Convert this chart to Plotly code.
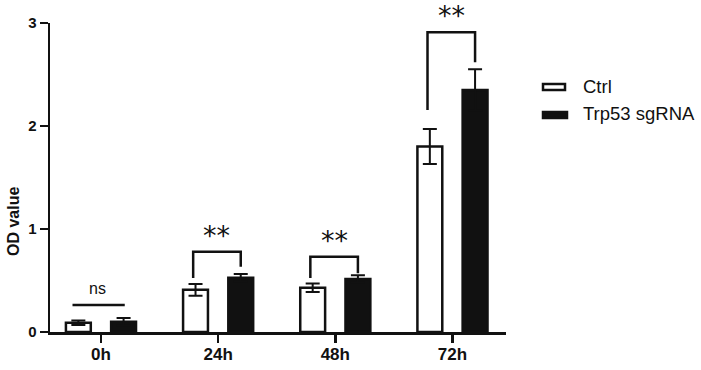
import plotly.graph_objects as go

# ---- data ----
categories = ["0h", "24h", "48h", "72h"]
ctrl_mean = [0.09, 0.41, 0.43, 1.80]
ctrl_err = [0.022, 0.057, 0.042, 0.17]
trp_mean = [0.10, 0.527, 0.515, 2.35]
trp_err = [0.035, 0.035, 0.037, 0.20]
series_names = ["Ctrl", "Trp53 sgRNA"]
sig_labels = ["ns", "**", "**", "**"]
y_ticks = [0, 1, 2, 3]

# ---- layout constants ----
W, H = 701, 370
L, T = 50, 23
PW, PH = 456, 309
R, B = W - L - PW, H - T - PH
BARGAP, BARGROUPGAP = 0.228, 0.45
half_slot = (1 - BARGAP) / 4.0  # offset of each bar center from group center
# bracket geometry (in y data units)
sig_top = [0.262, 0.78, 0.73, 2.91]
leg_left = [None, 0.524, 0.524, 2.155]
leg_right = [None, 0.634, 0.57, 2.618]
label_lift = 0.16
YMAX = 3.0

BLACK = "#111111"
FONT = "Liberation Sans, Arial, sans-serif"

fig = go.Figure()
fig.add_trace(go.Bar(
    x=categories, y=ctrl_mean, name=series_names[0],
    marker=dict(color="white", line=dict(color=BLACK, width=2.5)),
    error_y=dict(type="data", array=ctrl_err, visible=True, color=BLACK, thickness=2, width=7),
    showlegend=False, hoverinfo="skip",
))
fig.add_trace(go.Bar(
    x=categories, y=trp_mean, name=series_names[1],
    marker=dict(color=BLACK, line=dict(color=BLACK, width=2.5)),
    error_y=dict(type="data", array=trp_err, visible=True, color=BLACK, thickness=2, width=7),
    showlegend=False, hoverinfo="skip",
))

shapes = []
annotations = []
for i, lab in enumerate(sig_labels):
    xl, xr = i - half_slot, i + half_slot
    top = sig_top[i]
    ylab = (top + label_lift) / YMAX  # paper fraction (may exceed 1)
    if leg_left[i] is None:
        shapes.append(dict(type="line", xref="x", yref="y", x0=xl - 0.05, x1=xr + 0.01,
                           y0=top, y1=top, line=dict(color=BLACK, width=2.5)))
        annotations.append(dict(x=i - 0.03, y=ylab, xref="x", yref="paper", text=lab,
                                showarrow=False, font=dict(family=FONT, size=16, color=BLACK),
                                yanchor="middle"))
    else:
        path = f"M {xl - 0.02},{leg_left[i]} L {xl - 0.02},{top} L {xr},{top} L {xr},{leg_right[i]}"
        shapes.append(dict(type="path", xref="x", yref="y", path=path,
                           line=dict(color=BLACK, width=2.5)))
        annotations.append(dict(x=i - 0.01, y=ylab, xref="x", yref="paper", text=lab,
                                showarrow=False, font=dict(family="DejaVu Sans", size=27, color=BLACK),
                                yanchor="middle"))


def px2paper(px, py):
    # page pixel coordinates -> paper fractions
    return (px - L) / PW, (T + PH - py) / PH


# custom legend
box_specs = [((543, 84), (565, 90), "white"), ((543, 112), (567, 118), BLACK)]
text_y = [86, 113]
for (p0, p1, fill), ty, name in zip(box_specs, text_y, series_names):
    x0, y0 = px2paper(*p0)
    x1, y1 = px2paper(*p1)
    shapes.append(dict(type="rect", xref="paper", yref="paper", x0=x0, x1=x1, y0=y1, y1=y0,
                       fillcolor=fill, line=dict(color=BLACK, width=2.5)))
    tx, typ = px2paper(581, ty)
    annotations.append(dict(x=tx, y=typ, xref="paper", yref="paper", text=name, showarrow=False,
                            xanchor="left", yanchor="middle",
                            font=dict(family=FONT, size=18.5, color=BLACK)))

# y-axis title
yx, yy = px2paper(13, 222)
annotations.append(dict(x=yx, y=yy, xref="paper", yref="paper", text="<b>OD value</b>",
                        textangle=-90, showarrow=False, xanchor="center", yanchor="middle",
                        font=dict(family=FONT, size=16, color=BLACK)))

fig.update_layout(
    width=W, height=H,
    margin=dict(l=L, r=R, t=T, b=B, pad=0, autoexpand=False),
    paper_bgcolor="white", plot_bgcolor="white",
    barmode="group", bargap=BARGAP, bargroupgap=BARGROUPGAP,
    shapes=shapes, annotations=annotations,
    font=dict(family=FONT, color=BLACK),
    xaxis=dict(
        type="category", range=[-0.435, 3.457], automargin=False,
        showline=True, linecolor=BLACK, linewidth=2.5,
        ticks="outside", ticklen=8, tickwidth=2.5, tickcolor=BLACK,
        ticklabelstandoff=-3,
        tickfont=dict(family=FONT, size=17, color=BLACK, weight="bold"),
        showgrid=False, zeroline=False,
    ),
    yaxis=dict(
        range=[0, YMAX], tickvals=y_ticks, automargin=False,
        showline=True, linecolor=BLACK, linewidth=2.5,
        ticks="outside", ticklen=8, tickwidth=2.5, tickcolor=BLACK,
        tickfont=dict(family=FONT, size=15, color=BLACK, weight="bold"),
        showgrid=False, zeroline=False,
    ),
)

fig.write_html(
    "out.html",
    config={"displayModeBar": False, "staticPlot": True},
    post_script="document.body.style.margin='0';document.body.style.overflow='hidden';",
)
